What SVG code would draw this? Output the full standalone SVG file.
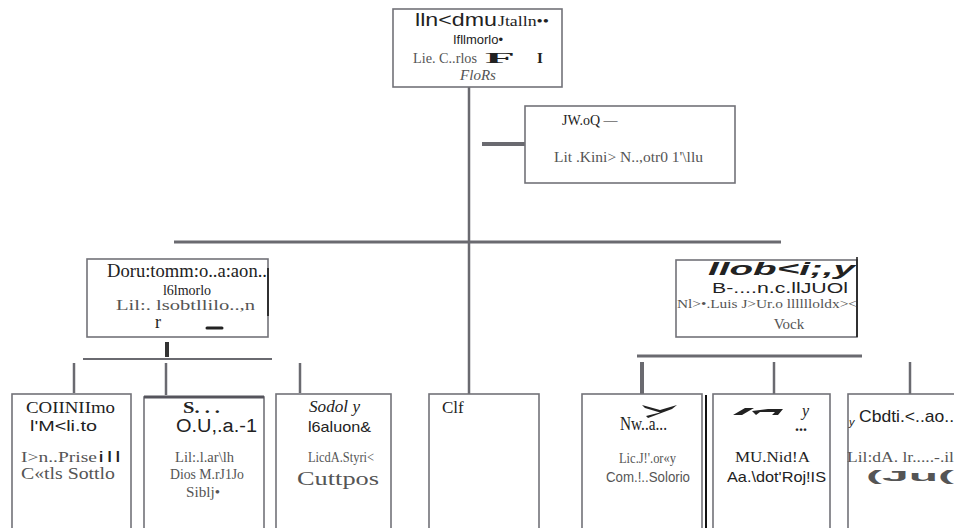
<svg xmlns="http://www.w3.org/2000/svg" width="954" height="528" viewBox="0 0 954 528">
<style>
.box{fill:#fff;stroke:#727278;stroke-width:1.6}
.ln{stroke:#6a6a70;fill:none}
.s{font-family:"Liberation Serif",serif;fill:#222}
.g{font-family:"Liberation Serif",serif;fill:#555}
.a{font-family:"Liberation Sans",sans-serif;fill:#222}
.ag{font-family:"Liberation Sans",sans-serif;fill:#555}
.blk{stroke:#111;fill:none}
</style>
<rect width="954" height="528" fill="#fff"/>
<g id="connectors">
<line class="ln" x1="469" y1="87" x2="469" y2="395" stroke-width="2.5"/>
<line class="ln" x1="174" y1="242" x2="781" y2="242" stroke-width="2.8"/>
<line class="ln" x1="482" y1="144" x2="533" y2="144" stroke-width="4"/>
<line x1="167" y1="342" x2="167" y2="357" stroke="#333" stroke-width="4"/>
<line class="ln" x1="83" y1="359" x2="272" y2="359" stroke-width="2"/>
<line class="ln" x1="74" y1="363" x2="74" y2="393" stroke-width="2.5"/>
<line class="ln" x1="166" y1="363" x2="166" y2="395" stroke-width="2.5"/>
<line class="ln" x1="300" y1="363" x2="300" y2="393" stroke-width="2.5"/>
<line class="ln" x1="637" y1="356" x2="862" y2="356" stroke-width="3.2"/>
<line class="ln" x1="642" y1="362" x2="642" y2="394" stroke-width="4"/>
<line class="ln" x1="774" y1="362" x2="774" y2="394" stroke-width="2.5"/>
<line class="ln" x1="910" y1="362" x2="910" y2="394" stroke-width="2.5"/>
</g>
<g id="node-top">
<rect class="box" x="393" y="9" width="169" height="78"/>
<text class="a" x="415" y="26" font-size="18" textLength="82" lengthAdjust="spacingAndGlyphs">lln&lt;dmu</text>
<text class="s" x="498" y="26" font-size="15" textLength="51" lengthAdjust="spacingAndGlyphs">Jtalln••</text>
<text class="a" x="478" y="44" font-size="13" text-anchor="middle">Ifllmorlo•</text>
<text class="g" x="413" y="63" font-size="15" textLength="64" lengthAdjust="spacingAndGlyphs">Lie. C..rlos</text>
<text class="s" x="485" y="63" font-size="15" font-weight="bold" textLength="30" lengthAdjust="spacingAndGlyphs">F</text>
<text class="s" x="537" y="63" font-size="15" font-weight="bold">I</text>
<text class="g" x="478" y="80" font-size="15" font-style="italic" text-anchor="middle">FloRs</text>
</g>
<g id="node-staff">
<rect class="box" x="525" y="106" width="210" height="77"/>
<text class="s" x="562" y="125" font-size="14">JW.oQ —</text>
<text class="g" x="554" y="162" font-size="15" textLength="149" lengthAdjust="spacingAndGlyphs">Lit .Kini&gt; N..,otr0 1'\llu</text>
</g>
<g id="node-left">
<rect class="box" x="87" y="259" width="181" height="78"/>
<line class="blk" x1="268" y1="268" x2="268" y2="316" stroke-width="1.5"/>
<text class="s" x="107" y="277" font-size="18" textLength="160" lengthAdjust="spacingAndGlyphs">Doru:tomm:o..a:aon..</text>
<text class="s" x="187" y="295" font-size="14" text-anchor="middle">l6lmorlo</text>
<text class="g" x="116" y="310" font-size="15" textLength="139" lengthAdjust="spacingAndGlyphs">Lil:. lsobtllilo..,n</text>
<text class="s" x="155" y="328" font-size="18">r</text>
<line x1="207" y1="328" x2="222" y2="328" stroke="#222" stroke-width="3" stroke-linecap="round"/>
</g>
<g id="node-right">
<rect class="box" x="676" y="260" width="181" height="77"/>
<line class="blk" x1="857" y1="257" x2="857" y2="337" stroke-width="1.5"/>
<text class="a" x="708" y="275" font-size="19" font-weight="bold" font-style="italic" textLength="147" lengthAdjust="spacingAndGlyphs">llob&lt;i;,y</text>
<text class="a" x="712" y="293" font-size="15" textLength="136" lengthAdjust="spacingAndGlyphs">B-....n.c.llJUOl</text>
<text class="g" x="677" y="308" font-size="13" textLength="180" lengthAdjust="spacingAndGlyphs">Nl&gt;•.Luis J&gt;Ur.o lllllloldx&gt;&lt;</text>
<text class="g" x="789" y="329" font-size="15" text-anchor="middle">Vock</text>
</g>
<g id="node-b1">
<rect class="box" x="12" y="394" width="119" height="136"/>
<text class="s" x="26" y="413" font-size="16" textLength="89" lengthAdjust="spacingAndGlyphs">COIINIImo</text>
<text class="a" x="30" y="431" font-size="14" textLength="67" lengthAdjust="spacingAndGlyphs">l'M&lt;li.to</text>
<text class="g" x="21" y="462" font-size="15" textLength="76" lengthAdjust="spacingAndGlyphs">I&gt;n..Prise</text>
<text class="a" x="99" y="462" font-size="15" font-weight="bold" fill="#444" textLength="21" lengthAdjust="spacingAndGlyphs">i l l</text>
<text class="g" x="21" y="479" font-size="16" textLength="94" lengthAdjust="spacingAndGlyphs">C«tls Sottlo</text>
</g>
<g id="node-b2">
<rect class="box" x="144" y="397" width="120" height="133"/>
<line x1="144" y1="397" x2="264" y2="397" stroke="#55545c" stroke-width="3"/>
<text class="s" x="183" y="413" font-size="16" font-weight="bold" textLength="37" lengthAdjust="spacingAndGlyphs">S. . .</text>
<text class="a" x="176" y="432" font-size="18" textLength="81" lengthAdjust="spacingAndGlyphs">O.U,.a.-1</text>
<text class="g" x="175" y="462" font-size="15" textLength="59" lengthAdjust="spacingAndGlyphs">Lil:.l.ar\lh</text>
<text class="g" x="170" y="479" font-size="15" textLength="74" lengthAdjust="spacingAndGlyphs">Dios M.rJ1Jo</text>
<text class="g" x="186" y="497" font-size="15" textLength="34" lengthAdjust="spacingAndGlyphs">Siblj•</text>
</g>
<g id="node-b3">
<rect class="box" x="276" y="394" width="115" height="136"/>
<text class="s" x="309" y="412" font-size="16" font-style="italic" textLength="51" lengthAdjust="spacingAndGlyphs">Sodol y</text>
<text class="a" x="308" y="432" font-size="15" textLength="63" lengthAdjust="spacingAndGlyphs">l6aluon&amp;</text>
<text class="g" x="308" y="462" font-size="14" textLength="66" lengthAdjust="spacingAndGlyphs">LicdA.Styri&lt;</text>
<text class="g" x="297" y="485" font-size="18" textLength="82" lengthAdjust="spacingAndGlyphs">Cuttpos</text>
</g>
<g id="node-clf">
<rect class="box" x="429" y="394" width="110" height="136"/>
<text class="s" x="442" y="413" font-size="17">Clf</text>
</g>
<g id="node-b5">
<rect class="box" x="582" y="394" width="120" height="136"/>
<line class="blk" x1="706" y1="395" x2="706" y2="528" stroke-width="2"/>
<path d="M642 405 L660 410 L677 405 L672 409 L648 418 L646 416 L660 412.5 L645 408 Z" fill="#222"/>
<text class="s" x="620" y="430" font-size="18" textLength="47" lengthAdjust="spacingAndGlyphs">Nw..a...</text>
<text class="g" x="619" y="463" font-size="14" textLength="57" lengthAdjust="spacingAndGlyphs">Lic.J!'.or«y</text>
<text class="ag" x="606" y="482" font-size="14" textLength="84" lengthAdjust="spacingAndGlyphs">Com.!..Solorio</text>
</g>
<g id="node-b6">
<rect class="box" x="713" y="394" width="117" height="136"/>
<path d="M733 415 L745 408 L754 408 L742 415 Z M752 411 L768 409 L783 409 L778 415 L772 415 L775 412 L760 412 L756 415 Z" fill="#222"/>
<text class="s" x="802" y="416" font-size="16" font-style="italic">y</text>
<text class="s" x="795" y="431" font-size="16" font-weight="bold">...</text>
<text class="s" x="735" y="462" font-size="14" textLength="75" lengthAdjust="spacingAndGlyphs">MU.Nid!A</text>
<text class="a" x="727" y="482" font-size="15" textLength="99" lengthAdjust="spacingAndGlyphs">Aa.\dot'Roj!IS</text>
</g>
<g id="node-b7">
<rect class="box" x="848" y="394" width="110" height="136"/>
<text class="a" x="849" y="426" font-size="11" font-style="italic">y</text>
<text class="a" x="859" y="422" font-size="17" textLength="95" lengthAdjust="spacingAndGlyphs">Cbdti.&lt;..ao..</text>
<text class="g" x="847" y="462" font-size="14" textLength="107" lengthAdjust="spacingAndGlyphs">Lil:dA. lr.....-.il</text>
<text class="ag" x="866" y="481" font-size="14" font-weight="bold" textLength="88" lengthAdjust="spacingAndGlyphs">(Ju(</text>
</g>
</svg>
